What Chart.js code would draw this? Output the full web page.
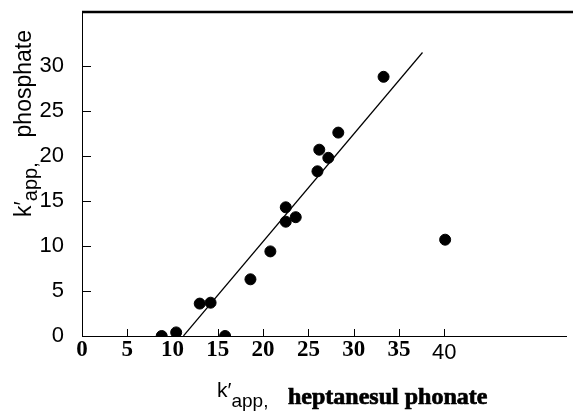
<!DOCTYPE html>
<html>
<head>
<meta charset="utf-8">
<script src="https://cdn.jsdelivr.net/npm/chart.js@4.4.1/dist/chart.umd.min.js"></script>
<style>
  body { margin: 0; background: #fff; }
  canvas { display: block; }
</style>
</head>
<body>
<canvas id="kappChart" width="573" height="411"></canvas>
<script>
// k'app heptanesulphonate (x) vs k'app phosphate (y)
const xValues = [8.8, 10.4, 13.0, 14.2, 15.8, 18.6, 20.8, 22.5, 22.5, 23.6, 26.0, 26.2, 27.2, 28.3, 33.3, 40.1];
const yValues = [0, 0.4, 3.6, 3.7, 0, 6.3, 9.4, 12.7, 14.3, 13.2, 18.3, 20.7, 19.8, 22.6, 28.8, 10.7];
// fitted line end points
const fitX = [11.2, 37.6];
const fitY = [0, 31.5];
// tick labels shown
const xTickLabels = [0, 5, 10, 15, 20, 25, 30, 35, 40];
const yTickLabels = [0, 5, 10, 15, 20, 25, 30];

const sans = '"Liberation Sans", Arimo, sans-serif';
const serifBold = '"Liberation Serif", "DejaVu Serif", serif';

const points = xValues.map((x, i) => ({ x: x, y: yValues[i] }));
const fitLine = fitX.map((x, i) => ({ x: x, y: fitY[i] }));

// inward tick marks + top frame line
const frame = {
    id: 'frame',
    afterDraw(chart) {
        const ctx = chart.ctx;
        const area = chart.chartArea;
        const xs = chart.scales.x;
        const ys = chart.scales.y;
        ctx.save();
        ctx.strokeStyle = '#000';
        ctx.lineWidth = 1;
        ctx.beginPath();
        xTickLabels.forEach(v => {
            const px = Math.round(xs.getPixelForValue(v)) + 0.5;
            ctx.moveTo(px, area.bottom);
            ctx.lineTo(px, area.bottom - 7);
        });
        yTickLabels.forEach(v => {
            const py = Math.round(ys.getPixelForValue(v)) + 0.5;
            ctx.moveTo(area.left, py);
            ctx.lineTo(area.left + 9, py);
        });
        ctx.stroke();
        ctx.lineWidth = 2.5;
        ctx.beginPath();
        ctx.moveTo(area.left, area.top);
        ctx.lineTo(chart.width, area.top);
        ctx.stroke();
        ctx.restore();
    }
};

// axis titles with subscript
const axisTitles = {
    id: 'axisTitles',
    afterDraw(chart) {
        const ctx = chart.ctx;
        ctx.save();
        ctx.fillStyle = '#000';
        ctx.strokeStyle = '#000';
        ctx.textAlign = 'left';
        ctx.textBaseline = 'alphabetic';

        // x title
        let x = 217;
        ctx.font = '21px ' + sans;
        ctx.fillText('k\u2032', x, 397);
        x += ctx.measureText('k\u2032').width;
        ctx.font = '19px ' + sans;
        ctx.fillText('app,', x, 407);
        ctx.font = 'bold 24px ' + serifBold;
        ctx.lineWidth = 0.7;
        ctx.fillText('heptanesul phonate', 288, 404);
        ctx.strokeText('heptanesul phonate', 288, 404);

        // y title
        ctx.translate(31, 217);
        ctx.rotate(-Math.PI / 2);
        let t = 0;
        ctx.font = '23px ' + sans;
        ctx.fillText('k\u2032', t, 0);
        t += ctx.measureText('k\u2032').width;
        ctx.font = '20px ' + sans;
        ctx.fillText('app,', t, 6);
        ctx.font = '23px ' + sans;
        ctx.textAlign = 'right';
        ctx.fillText('phosphate', 187, 0);
        ctx.restore();
    }
};

new Chart(document.getElementById('kappChart'), {
    type: 'scatter',
    data: {
        datasets: [{
            label: 'data',
            data: points,
            backgroundColor: '#000',
            borderColor: '#000',
            pointRadius: 5.5,
            pointHoverRadius: 5.5
        }, {
            label: 'fit',
            data: fitLine,
            showLine: true,
            borderColor: '#000',
            borderWidth: 1.2,
            pointRadius: 0
        }]
    },
    options: {
        responsive: false,
        animation: false,
        layout: { padding: { top: 12, right: 0, left: 0, bottom: 0 } },
        plugins: {
            legend: { display: false },
            tooltip: { enabled: false }
        },
        scales: {
            x: {
                type: 'linear',
                min: 0,
                max: 53.5,
                afterFit: function(scale) {
                    scale.height = 75;
                    scale.paddingLeft = 0;
                    scale.paddingRight = 0;
                },
                grid: { display: false },
                border: { display: true, color: '#000', width: 1 },
                ticks: {
                    stepSize: 5,
                    autoSkip: false,
                    maxRotation: 0,
                    padding: -4,
                    color: '#000',
                    callback: function(v) { return xTickLabels.includes(v) ? String(v) : ''; },
                    font: function(c) {
                        if (c.tick && c.tick.value === 40) return { family: sans, size: 22, lineHeight: 1.2 };
                        return { family: serifBold, size: 23, weight: 'bold', lineHeight: 0.85 };
                    }
                }
            },
            y: {
                type: 'linear',
                min: 0,
                max: 36,
                afterFit: function(scale) {
                    scale.width = 82;
                    scale.paddingTop = 0;
                    scale.paddingBottom = 0;
                },
                grid: { display: false },
                border: { display: true, color: '#000', width: 1 },
                ticks: {
                    stepSize: 5,
                    padding: 10,
                    color: '#000',
                    callback: function(v) { return yTickLabels.includes(v) ? String(v) : ''; },
                    font: { family: sans, size: 22 }
                }
            }
        }
    },
    plugins: [frame, axisTitles]
});
</script>
</body>
</html>
